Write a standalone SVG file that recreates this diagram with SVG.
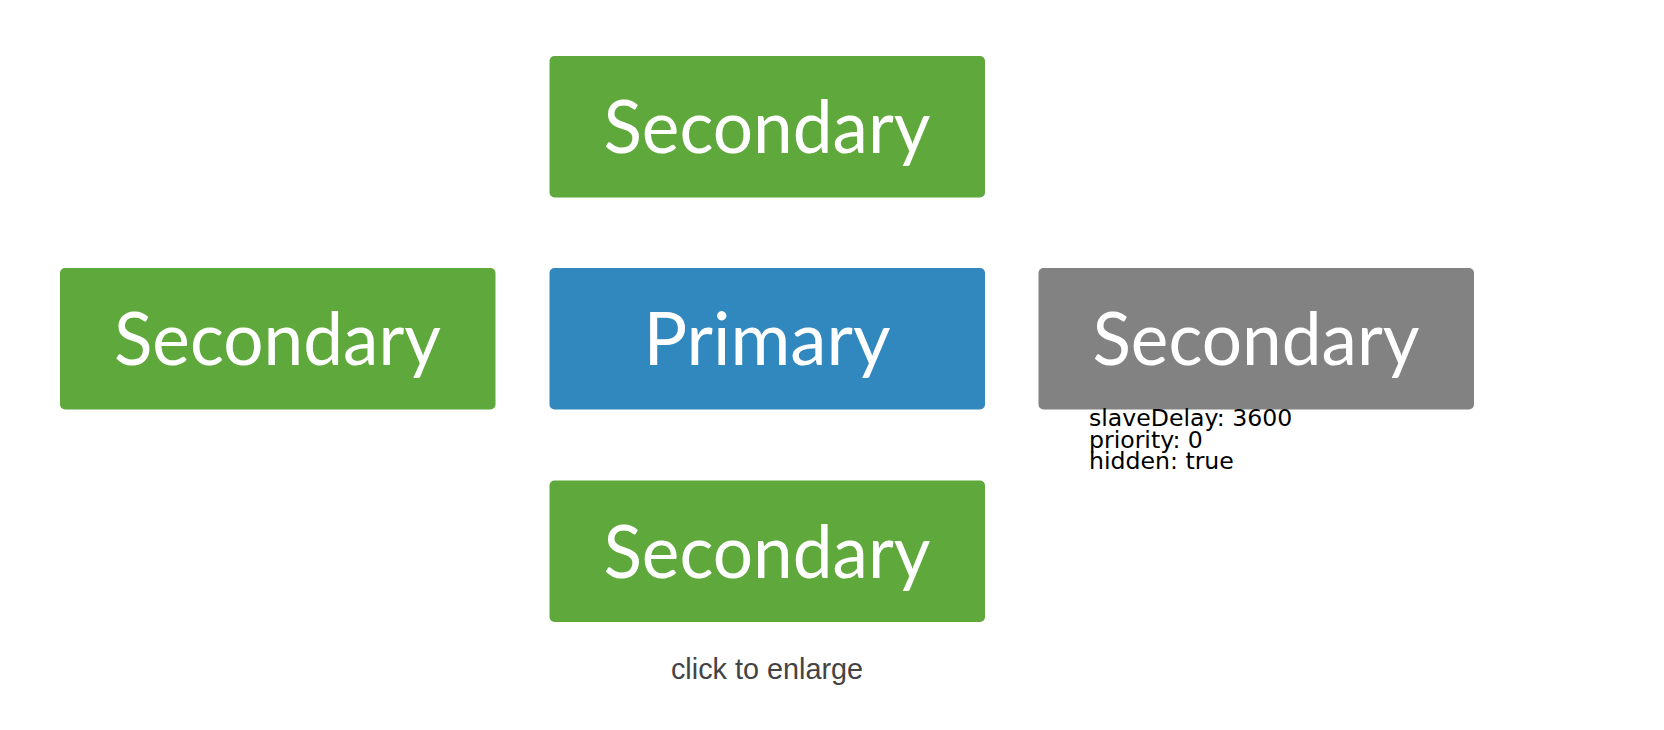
<svg xmlns="http://www.w3.org/2000/svg" width="1664" height="730" viewBox="0 0 1664 730">
  <style>
    .box { stroke: none; }
    .secondary { fill: #5fa83b; }
    .primary { fill: #3088bf; }
    .hidden { fill: #828282; }
    .label { font-family: Lato, "Open Sans", sans-serif; font-size: 74px; fill: #ffffff; text-anchor: middle; }
    .note { font-family: "DejaVu Sans", sans-serif; font-size: 23.6px; fill: #000000; }
    .caption { font-family: "Liberation Sans", Arial, sans-serif; font-size: 28.8px; fill: #444444; text-anchor: middle; }
  </style>
  <rect width="1664" height="730" fill="#ffffff"/>

  <g id="connectors"></g>

  <g id="node-top">
    <rect class="box secondary" x="549.5" y="56" width="435.5" height="141.5" rx="5"/>
    <text class="label" x="767" y="153" textLength="327" lengthAdjust="spacingAndGlyphs">Secondary</text>
  </g>

  <g id="node-left">
    <rect class="box secondary" x="60" y="268" width="435.5" height="141.5" rx="5"/>
    <text class="label" x="277.5" y="365" textLength="327" lengthAdjust="spacingAndGlyphs">Secondary</text>
  </g>

  <g id="node-primary">
    <rect class="box primary" x="549.5" y="268" width="435.5" height="141.5" rx="5"/>
    <text class="label" x="767" y="365" textLength="247" lengthAdjust="spacingAndGlyphs">Primary</text>
  </g>

  <g id="node-right">
    <rect class="box hidden" x="1038.5" y="268" width="435.5" height="141.5" rx="5"/>
    <text class="label" x="1256" y="365" textLength="327" lengthAdjust="spacingAndGlyphs">Secondary</text>
    <text class="note" x="1089" y="425.5">slaveDelay: 3600</text>
    <text class="note" x="1089" y="447.5">priority: 0</text>
    <text class="note" x="1089" y="469">hidden: true</text>
  </g>

  <g id="node-bottom">
    <rect class="box secondary" x="549.5" y="480.5" width="435.5" height="141.5" rx="5"/>
    <text class="label" x="767" y="577.5" textLength="327" lengthAdjust="spacingAndGlyphs">Secondary</text>
  </g>

  <text class="caption" x="767" y="679">click to enlarge</text>
</svg>
